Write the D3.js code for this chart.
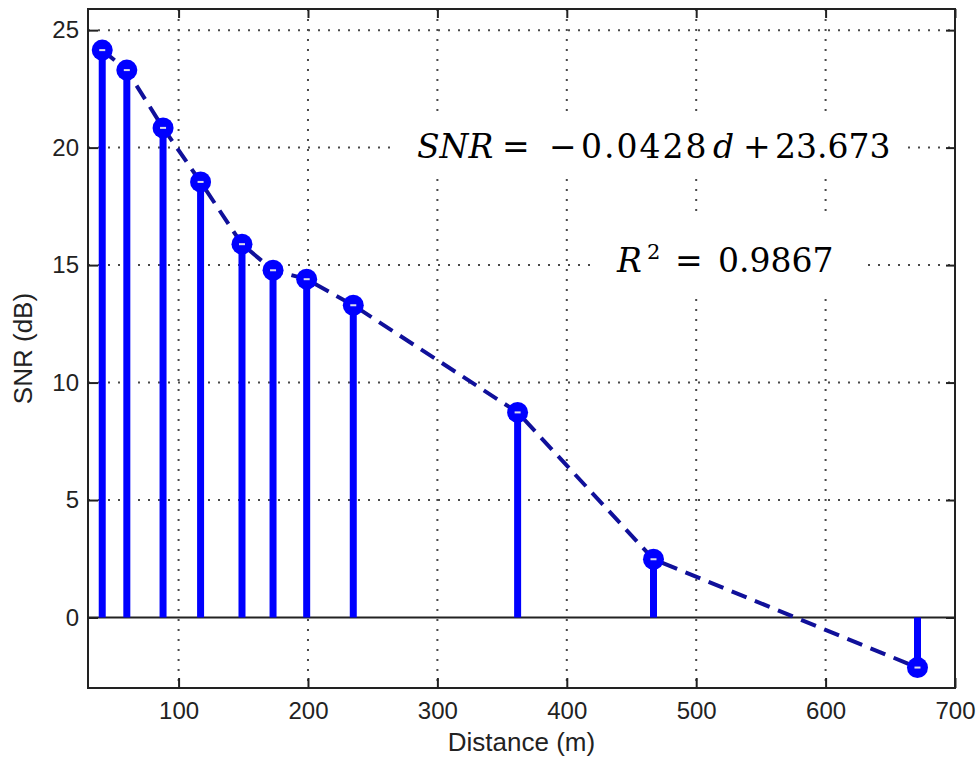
<!DOCTYPE html>
<html>
<head>
<meta charset="utf-8">
<script src="https://cdn.jsdelivr.net/npm/d3@7"></script>
<style>
  body { margin: 0; background: #fff; }
  .tick-label { font-family: "Liberation Sans", Arial, sans-serif; font-size: 24px; fill: #222; }
  .axis-label { font-family: "Liberation Sans", Arial, sans-serif; font-size: 26px; fill: #222; }
  .eq { font-family: "DejaVu Serif", serif; font-size: 33px; fill: #000; }
</style>
</head>
<body>
<svg id="chart" width="979" height="760"></svg>
<script>
// ---------- DATA ----------
var distance = [41, 60, 88, 117, 149, 173, 199, 235, 362, 467, 671];
var snr = [24.15, 23.3, 20.84, 18.54, 15.89, 14.78, 14.4, 13.29, 8.73, 2.48, -2.13];
var xTicks = [100, 200, 300, 400, 500, 600, 700];
var yTicks = [0, 5, 10, 15, 20, 25];
var xDomain = [30, 700];
var yDomain = [-3, 25.9];

var data = distance.map(function(d, i) { return {d: d, snr: snr[i]}; });

// plot box in pixels
var pLeft = 88, pRight = 955, pTop = 9, pBottom = 688;

var svg = d3.select("#chart");

var x = d3.scaleLinear().domain(xDomain).range([pLeft, pRight]);
var y = d3.scaleLinear().domain(yDomain).range([pBottom, pTop]);

// --------GRID--------------
var grid = svg.append("g").attr("class", "grid");
grid.selectAll(".vgrid")
  .data(xTicks.filter(function(t) { return t < 700; }))
  .enter().append("line")
  .attr("x1", function(d) { return x(d); })
  .attr("x2", function(d) { return x(d); })
  .attr("y1", pTop)
  .attr("y2", pBottom)
  .style("stroke", "#4a4a4a")
  .style("stroke-width", 2)
  .style("stroke-dasharray", "2,8");

grid.selectAll(".hgrid")
  .data(yTicks.filter(function(t) { return t != 0; }))
  .enter().append("line")
  .attr("x1", pLeft)
  .attr("x2", pRight)
  .attr("y1", function(d) { return y(d); })
  .attr("y2", function(d) { return y(d); })
  .style("stroke", "#4a4a4a")
  .style("stroke-width", 2)
  .style("stroke-dasharray", "2,8");

// white boxes behind the equation text
svg.append("rect").attr("x", 395).attr("y", 113).attr("width", 505).attr("height", 65).style("fill", "#fff");
svg.append("rect").attr("x", 590).attr("y", 218).attr("width", 272).attr("height", 74).style("fill", "#fff");

// baseline at zero
svg.append("line")
  .attr("x1", pLeft).attr("x2", pRight)
  .attr("y1", y(0)).attr("y2", y(0))
  .style("stroke", "#222")
  .style("stroke-width", 2);

// --------AXES BOX + TICKS--------------
svg.append("rect")
  .attr("x", pLeft).attr("y", pTop)
  .attr("width", pRight - pLeft).attr("height", pBottom - pTop)
  .style("fill", "none")
  .style("stroke", "#222")
  .style("stroke-width", 2);

var xAxisB = d3.axisBottom(x).tickValues(xTicks).tickSize(-10).tickPadding(14).tickFormat(d3.format("d"));
var xAxisT = d3.axisTop(x).tickValues(xTicks).tickSize(-9).tickFormat("");
var yAxisL = d3.axisLeft(y).tickValues(yTicks).tickSize(-10).tickPadding(9).tickFormat(d3.format("d"));
var yAxisR = d3.axisRight(y).tickValues(yTicks).tickSize(-9).tickFormat("");

function styleAxis(g) {
  g.select(".domain").remove();
  g.selectAll(".tick line").style("stroke", "#222").style("stroke-width", 2);
  g.selectAll(".tick text").attr("class", "tick-label").attr("fill", null);
}

svg.append("g").attr("transform", "translate(0," + pBottom + ")").call(xAxisB).call(styleAxis)
  .selectAll(".tick text").attr("dy", "0.71em");
svg.append("g").attr("transform", "translate(0," + pTop + ")").call(xAxisT).call(styleAxis);
svg.append("g").attr("transform", "translate(" + pLeft + ",0)").call(yAxisL).call(styleAxis);
svg.append("g").attr("transform", "translate(" + pRight + ",0)").call(yAxisR).call(styleAxis);

// axis labels
svg.append("text")
  .attr("class", "axis-label")
  .attr("x", (pLeft + pRight) / 2)
  .attr("y", 751)
  .attr("text-anchor", "middle")
  .text("Distance (m)");

svg.append("text")
  .attr("class", "axis-label")
  .attr("transform", "translate(32," + (pTop + pBottom) / 2 + ") rotate(-90)")
  .attr("text-anchor", "middle")
  .text("SNR (dB)");

// --------STEMS--------------
svg.selectAll(".stem")
  .data(data)
  .enter().append("line")
  .attr("class", "stem")
  .attr("x1", function(d) { return x(d.d); })
  .attr("x2", function(d) { return x(d.d); })
  .attr("y1", y(0))
  .attr("y2", function(d) { return y(d.snr); })
  .style("stroke", "#0000ff")
  .style("stroke-width", 7);

// dashed line through the points
var line = d3.line()
  .x(function(d) { return x(d.d); })
  .y(function(d) { return y(d.snr); });

svg.append("path")
  .datum(data)
  .attr("d", line)
  .style("fill", "none")
  .style("stroke", "#10109a")
  .style("stroke-width", 4)
  .style("stroke-dasharray", "16,9");

// markers
var markers = svg.selectAll(".marker")
  .data(data)
  .enter().append("g")
  .attr("class", "marker")
  .attr("transform", function(d) { return "translate(" + x(d.d) + "," + y(d.snr) + ")"; });

markers.append("circle")
  .attr("r", 10.5)
  .style("fill", "#0000ff");

markers.append("rect")
  .attr("x", -3).attr("y", -1)
  .attr("width", 6).attr("height", 2)
  .style("fill", "#dde");

// --------EQUATION TEXT--------------
var eq1 = svg.append("text").attr("class", "eq").attr("y", 158);
eq1.append("tspan").attr("x", 417).style("font-style", "italic").text("SNR");
eq1.append("tspan").attr("x", 502).text("=");
eq1.append("tspan").attr("x", 549).text("\u2212");
eq1.append("tspan").attr("x", 581).style("letter-spacing", "2px").text("0.0428");
eq1.append("tspan").attr("x", 713).style("font-style", "italic").text("d");
eq1.append("tspan").attr("x", 743).text("+");
eq1.append("tspan").attr("x", 775).text("23.673");

var eq2 = svg.append("text").attr("class", "eq").attr("y", 272);
eq2.append("tspan").attr("x", 617).style("font-style", "italic").text("R");
eq2.append("tspan").attr("x", 647).attr("dy", -13).style("font-size", "21px").text("2");
eq2.append("tspan").attr("x", 675).attr("dy", 13).text("=");
eq2.append("tspan").attr("x", 718).text("0.9867");
</script>
</body>
</html>
